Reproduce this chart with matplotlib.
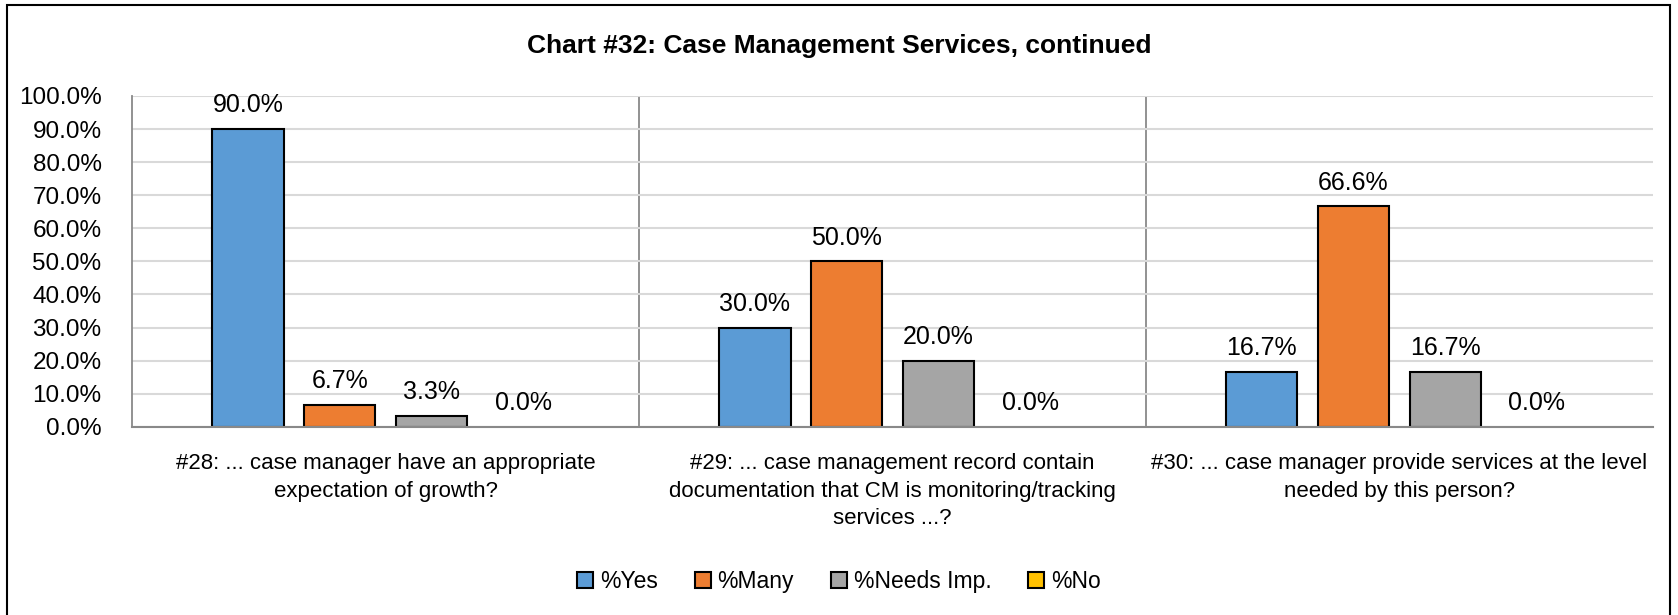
import matplotlib
matplotlib.use("Agg")
import matplotlib.pyplot as plt
import numpy as np
from matplotlib.patches import Rectangle

plt.rcParams["font.family"] = ["Liberation Sans", "DejaVu Sans"]

categories = [
    "#28: ... case manager have an appropriate\nexpectation of growth?",
    "#29: ... case management record contain\ndocumentation that CM is monitoring/tracking\nservices ...?",
    "#30: ... case manager provide services at the level\nneeded by this person?",
]
series_names = ["%Yes", "%Many", "%Needs Imp.", "%No"]
yes_vals = [90.0, 30.0, 16.7]
many_vals = [6.7, 50.0, 66.6]
needs_vals = [3.3, 20.0, 16.7]
no_vals = [0.0, 0.0, 0.0]
colors = ["#5b9bd5", "#ed7d31", "#a5a5a5", "#ffc000"]

fig = plt.figure(figsize=(16.78, 6.15), dpi=100)
ax = fig.add_axes([0.0787, 0.306, 0.9063, 0.538])

x = np.arange(len(categories))
width = 0.141
step = 0.181
series = [yes_vals, many_vals, needs_vals, no_vals]
for i, (name, vals, c) in enumerate(zip(series_names, series, colors)):
    pos = x + (i - 1.5) * step
    lw = [1.5 if v > 0 else 0 for v in vals]
    ax.bar(pos, vals, width, color=c, edgecolor="black", linewidth=lw, zorder=3)
    # legend proxy
    ax.bar([0], [0], 0, color=c, edgecolor="black", linewidth=1.5, label=name)
    for p, v in zip(pos, vals):
        ax.text(p, v + 3.5, f"{v:.1f}%", ha="center", va="bottom", fontsize=18)

ax.set_xlim(-0.5, len(categories) - 0.5)
ax.set_ylim(0, 100)
ax.set_yticks(np.arange(0, 101, 10))
ax.set_yticklabels([f"{t:.1f}%" for t in np.arange(0, 101, 10)], fontsize=17.5)
ax.tick_params(axis="y", length=0, pad=22)
ax.set_xticks(x)
ax.set_xticklabels(categories, fontsize=16, linespacing=1.4)
ax.tick_params(axis="x", length=0, pad=19)
ax.yaxis.grid(True, color="#d9d9d9", linewidth=1.5, zorder=0)
for b in [0.5, 1.5]:
    ax.axvline(b, color="#898989", linewidth=1.3, zorder=1)
for s in ["top", "right"]:
    ax.spines[s].set_visible(False)
ax.spines["left"].set_color("#898989")
ax.spines["left"].set_linewidth(1.3)
ax.spines["bottom"].set_color("#898989")
ax.spines["bottom"].set_linewidth(1.5)
ax.spines["bottom"].set_zorder(4)

fig.text(0.5, 0.925, "Chart #32: Case Management Services, continued",
         ha="center", va="center", fontsize=19, fontweight="bold")

fig.legend(loc="center", bbox_to_anchor=(0.5, 0.055), ncol=4, frameon=False,
           fontsize=16.5, handlelength=0.7, handleheight=0.7, handletextpad=0.3,
           columnspacing=1.6)

border = Rectangle((0.0042, -0.05), 0.9910, 1.042, transform=fig.transFigure,
                   fill=False, edgecolor="black", linewidth=1.5, clip_on=False)
fig.patches.append(border)

fig.savefig("out.png", dpi=100)
